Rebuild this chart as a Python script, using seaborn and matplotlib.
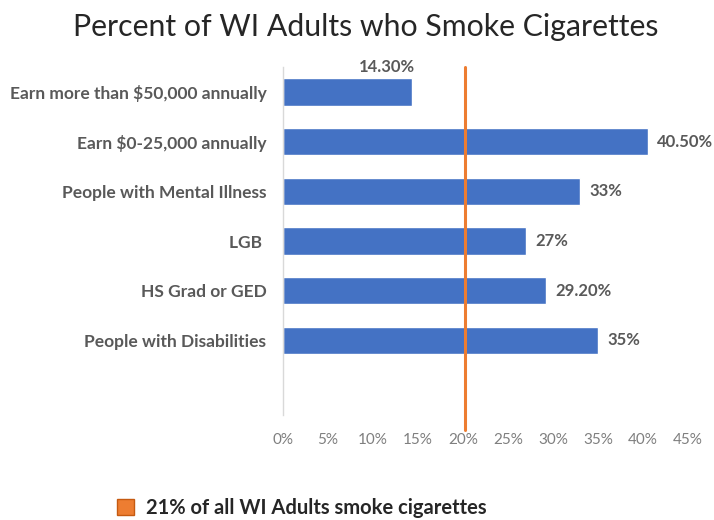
import matplotlib
matplotlib.use("Agg")
import matplotlib.pyplot as plt
from matplotlib.patches import Patch
import seaborn as sns
import pandas as pd

categories = ["Earn more than $50,000 annually", "Earn $0-25,000 annually",
              "People with Mental Illness", "LGB ", "HS Grad or GED",
              "People with Disabilities"]
values = [14.3, 40.5, 33, 27, 29.2, 35]
value_labels = ["14.30%", "40.50%", "33%", "27%", "29.20%", "35%"]
reference_value = 20.2
reference_label = "21% of all WI Adults smoke cigarettes"
xticks = [0, 5, 10, 15, 20, 25, 30, 35, 40, 45]
title = "Percent of WI Adults who Smoke Cigarettes"

sns.set_theme(style="white")
plt.rcParams['font.family'] = ['Lato', 'DejaVu Sans']

df = pd.DataFrame({"cat": categories, "val": values})

fig = plt.figure(figsize=(7.14, 5.2), dpi=100)
ax = fig.add_axes([283/714, 1-415/520, 405/714, 348/520])

sns.barplot(data=df, y="cat", x="val", orient="h", color="#4472C4",
            saturation=1, width=0.55, ax=ax)
ax.set_ylim(6.5, -0.5)
ax.set_xlim(0, 45)
ax.set_xticks(xticks)
ax.set_xticklabels([f"{t}%" for t in xticks])
ax.set_xlabel("")
ax.set_ylabel("")
for s in ["top", "right", "bottom"]:
    ax.spines[s].set_visible(False)
ax.spines["left"].set_color("#d9d9d9")
ax.spines["left"].set_linewidth(1)
ax.tick_params(axis="x", length=0, pad=13, labelsize=11, labelcolor="#7f7f7f")
ax.tick_params(axis="y", length=0, pad=12, labelsize=12.5, labelcolor="#595959")
for lab in ax.get_yticklabels():
    lab.set_fontweight("bold")

# data labels
for i, (v, t) in enumerate(zip(values, value_labels)):
    if i == 0:
        ax.annotate(t, xy=(v, i), xytext=(-18, 12), textcoords="offset points",
                    ha="center", va="bottom", fontsize=12, fontweight="bold",
                    color="#595959")
    else:
        ax.annotate(t, xy=(v, i), xytext=(7, 0), textcoords="offset points",
                    ha="left", va="center", fontsize=12, fontweight="bold",
                    color="#595959")

ax.plot([reference_value, reference_value], [-0.5, 6.8], color="#ED7D31",
        lw=2.2, clip_on=False, zorder=5)

fig.text(366/714, 1-27/520, title, ha="center", va="center", fontsize=21.8,
         color="#262626")

handle = Patch(facecolor="#ED7D31", edgecolor="#C55A11", linewidth=1)
fig.legend([handle], [reference_label], loc="center left",
           bbox_to_anchor=(99/714, 1-508/520), frameon=False,
           handlelength=0.85, handleheight=0.85, handletextpad=0.6,
           prop={"weight": "bold", "size": 14.5}, labelcolor="#262626")

fig.savefig("out.png", dpi=100)
